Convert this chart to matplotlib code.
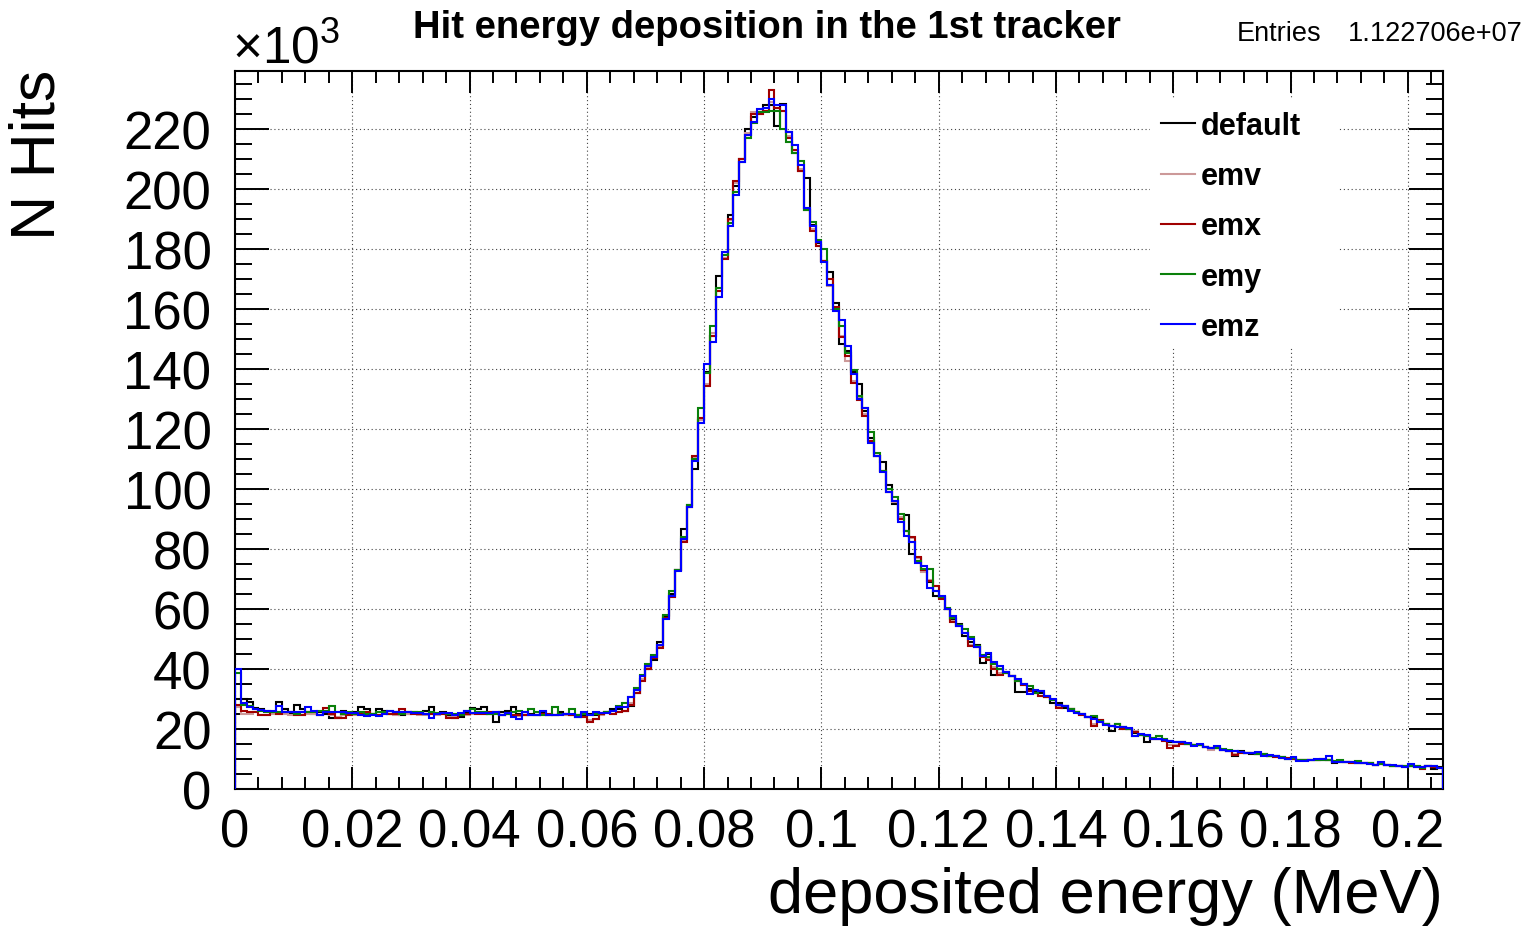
import numpy as np
import matplotlib
matplotlib.use("Agg")
import matplotlib.pyplot as plt
from matplotlib.lines import Line2D
from matplotlib.patches import Rectangle
from matplotlib.ticker import MultipleLocator, FuncFormatter

# histogram contents in units of 10^3 hits, 206 bins of 0.001 MeV
x_lo, x_hi = 0.0, 0.206

default = [
    30.0, 30.0, 29.0, 27.0, 26.8, 26.0, 25.5, 29.0, 26.5, 25.0,
    28.0, 26.5, 25.5, 25.0, 25.8, 25.0, 23.6, 23.6, 26.0, 25.0,
    25.5, 27.2, 26.5, 25.0, 26.8, 26.0, 25.0, 25.5, 24.5, 25.0,
    25.5, 25.0, 26.0, 27.2, 25.0, 25.5, 24.8, 23.5, 24.0, 25.5,
    27.0, 26.5, 27.3, 25.0, 22.3, 25.5, 26.0, 27.3, 25.0, 24.5,
    25.0, 24.8, 25.5, 24.5, 24.5, 25.5, 25.0, 24.5, 24.0, 24.5,
    25.0, 24.5, 25.0, 25.5, 26.5, 26.5, 26.0, 27.5, 32.0, 36.7,
    40.0, 43.0, 49.0, 57.5, 65.0, 73.0, 86.7, 94.5, 106.7, 123.0,
    139.0, 151.0, 171.0, 178.0, 191.4, 201.0, 210.0, 220.0, 224.0, 225.5,
    228.0, 228.0, 221.0, 228.3, 219.0, 212.0, 206.0, 203.5, 188.0, 182.0,
    176.0, 172.4, 162.0, 148.3, 146.0, 139.0, 135.0, 126.0, 117.0, 111.0,
    109.0, 101.3, 95.0, 90.0, 91.3, 78.3, 77.0, 73.0, 69.0, 64.4,
    64.0, 60.0, 56.7, 55.0, 51.1, 49.0, 48.0, 42.0, 45.0, 38.0,
    40.0, 39.0, 37.5, 32.4, 32.4, 33.3, 32.5, 32.0, 30.5, 28.5,
    28.5, 27.0, 26.5, 25.5, 25.0, 24.0, 23.5, 22.5, 21.5, 19.4,
    21.7, 20.5, 20.0, 18.5, 18.0, 15.8, 16.5, 16.5, 16.3, 15.8,
    15.5, 15.5, 15.0, 14.5, 14.5, 14.0, 13.5, 13.5, 13.0, 12.8,
    11.1, 12.5, 12.0, 11.8, 11.5, 11.5, 11.0, 11.0, 10.5, 10.0,
    10.0, 9.5, 9.5, 9.5, 9.8, 9.8, 9.5, 8.5, 9.0, 9.0,
    9.0, 8.8, 8.8, 8.5, 8.0, 8.5, 8.0, 7.8, 7.5, 7.5,
    7.8, 7.5, 7.2, 7.5, 6.5, 7.2,
]

emv = [
    27.2, 25.0, 25.0, 25.5, 24.5, 24.5, 25.0, 25.0, 25.0, 24.5,
    24.5, 24.5, 25.0, 25.0, 24.5, 26.0, 24.8, 24.0, 24.5, 24.5,
    24.8, 24.8, 25.0, 25.0, 24.7, 25.0, 25.0, 24.8, 25.5, 25.0,
    25.0, 24.8, 24.8, 25.0, 24.8, 25.0, 24.0, 24.0, 24.7, 24.8,
    25.0, 25.0, 25.0, 25.0, 25.3, 24.5, 25.0, 24.3, 24.3, 24.5,
    24.5, 24.5, 24.8, 25.0, 24.7, 24.8, 24.8, 24.5, 24.5, 24.0,
    23.0, 23.3, 24.7, 25.3, 25.0, 25.5, 26.0, 28.5, 32.0, 36.5,
    40.5, 43.5, 47.5, 57.0, 64.0, 73.0, 83.0, 94.0, 110.5, 123.0,
    135.0, 152.0, 166.0, 177.0, 189.5, 202.0, 210.0, 218.5, 225.5, 225.0,
    226.0, 229.0, 227.0, 226.0, 217.5, 213.0, 206.5, 193.5, 186.5, 181.0,
    176.0, 167.8, 160.0, 151.0, 142.8, 136.0, 130.7, 125.0, 116.0, 111.0,
    106.0, 99.0, 95.6, 90.7, 86.0, 83.5, 77.0, 72.3, 69.5, 67.5,
    63.5, 60.0, 56.0, 54.5, 52.0, 48.0, 47.5, 44.0, 43.5, 40.5,
    38.5, 38.5, 37.5, 36.0, 34.5, 32.5, 32.0, 31.0, 30.5, 29.5,
    27.5, 27.5, 26.5, 25.5, 24.5, 24.0, 21.8, 23.0, 21.5, 21.0,
    20.5, 20.0, 20.0, 19.2, 18.2, 17.5, 17.0, 16.5, 16.0, 14.5,
    14.5, 15.0, 15.0, 14.5, 14.5, 14.0, 13.0, 13.5, 13.0, 12.5,
    11.5, 12.0, 12.0, 12.0, 11.8, 11.3, 11.0, 10.8, 10.5, 10.2,
    10.0, 9.5, 9.5, 9.5, 9.7, 10.0, 9.8, 9.0, 9.0, 9.0,
    8.8, 8.5, 8.5, 8.3, 8.0, 8.3, 8.0, 7.8, 7.5, 7.3,
    7.5, 7.3, 7.0, 7.5, 7.2, 7.0,
]

emx = [
    28.0, 26.0, 25.8, 25.8, 24.7, 24.7, 25.5, 25.0, 25.5, 25.5,
    24.7, 24.7, 25.5, 25.5, 24.7, 27.0, 25.0, 23.6, 23.8, 24.8,
    25.0, 25.0, 25.5, 25.0, 24.7, 25.3, 25.0, 25.0, 26.5, 25.5,
    25.0, 25.0, 25.0, 25.0, 25.0, 25.0, 23.6, 23.8, 24.7, 25.0,
    25.3, 25.0, 25.0, 25.5, 25.5, 24.7, 25.0, 24.5, 24.5, 24.5,
    24.5, 24.7, 25.0, 25.0, 24.7, 25.0, 25.0, 24.5, 24.5, 24.0,
    22.4, 23.3, 25.0, 25.5, 25.0, 25.5, 26.0, 28.0, 32.0, 36.0,
    40.0, 43.5, 47.0, 57.0, 64.0, 73.0, 82.2, 94.0, 111.0, 123.7,
    134.4, 151.0, 166.0, 176.7, 190.0, 202.8, 210.0, 218.0, 225.0, 225.0,
    226.0, 233.0, 227.0, 226.0, 217.0, 213.0, 206.0, 193.0, 186.0, 181.0,
    176.0, 170.0, 160.5, 150.6, 144.3, 135.3, 129.8, 124.4, 116.0, 111.0,
    106.0, 99.0, 96.0, 90.0, 86.0, 84.0, 77.3, 73.0, 69.4, 67.8,
    63.3, 60.0, 55.8, 54.4, 52.0, 47.5, 47.3, 44.0, 43.0, 40.0,
    38.0, 38.5, 37.5, 36.0, 34.5, 32.5, 32.0, 31.0, 30.5, 29.5,
    27.0, 27.5, 26.5, 25.5, 24.5, 24.0, 21.1, 23.1, 21.5, 21.0,
    20.5, 20.0, 20.0, 19.0, 18.0, 17.5, 16.8, 16.5, 16.0, 13.7,
    14.4, 15.0, 15.0, 14.5, 14.5, 14.0, 13.5, 13.5, 13.0, 12.5,
    11.2, 12.0, 12.0, 12.0, 11.8, 11.3, 11.0, 10.8, 10.3, 10.2,
    10.0, 9.5, 9.5, 9.5, 9.5, 10.0, 9.8, 9.0, 9.0, 9.0,
    8.8, 8.5, 8.5, 8.5, 8.0, 8.3, 8.0, 7.8, 7.5, 7.3,
    7.5, 7.3, 6.8, 7.5, 7.2, 7.0,
]

emy = [
    38.7, 28.0, 27.5, 26.5, 26.0, 25.5, 25.8, 25.5, 25.5, 25.5,
    25.0, 25.5, 25.5, 25.5, 26.0, 26.0, 27.8, 25.5, 25.0, 25.5,
    25.0, 25.5, 25.0, 25.0, 25.5, 25.5, 26.0, 25.5, 25.0, 25.5,
    25.5, 25.5, 25.0, 25.5, 25.3, 25.3, 25.0, 25.0, 24.5, 26.0,
    26.5, 25.5, 25.5, 25.0, 25.0, 24.5, 25.0, 25.5, 26.0, 25.5,
    26.7, 25.5, 24.5, 24.7, 27.2, 25.0, 25.0, 26.5, 24.5, 25.0,
    24.5, 25.0, 25.3, 25.5, 26.0, 27.5, 28.5, 30.6, 33.5, 38.0,
    41.5, 44.5, 48.0, 58.0, 66.0, 73.0, 84.0, 94.5, 110.0, 127.0,
    138.5, 154.3, 167.0, 178.0, 188.7, 199.0, 209.0, 217.0, 222.0, 225.5,
    225.5, 226.0, 226.0, 220.0, 215.8, 212.0, 209.4, 193.0, 189.0, 183.0,
    180.0, 168.0, 160.0, 154.3, 145.3, 139.8, 131.0, 127.0, 119.0, 112.0,
    106.0, 100.0, 97.3, 91.7, 86.0, 82.3, 76.0, 73.3, 73.3, 66.0,
    64.0, 60.3, 57.0, 54.5, 53.3, 50.5, 47.5, 44.5, 44.0, 41.5,
    40.0, 38.5, 37.5, 36.0, 35.0, 34.3, 32.0, 32.5, 31.0, 29.5,
    28.0, 27.5, 26.5, 25.5, 25.0, 24.0, 24.3, 22.5, 21.5, 21.0,
    21.7, 20.5, 20.0, 17.8, 18.0, 17.5, 17.0, 17.8, 16.5, 16.0,
    15.8, 15.5, 15.0, 14.5, 14.5, 14.0, 13.5, 13.8, 13.3, 13.0,
    12.5, 12.3, 12.0, 12.0, 11.8, 11.5, 11.0, 11.0, 10.5, 10.0,
    10.3, 9.8, 9.5, 9.5, 9.8, 9.5, 9.5, 9.3, 9.5, 9.0,
    9.0, 9.3, 8.5, 8.5, 8.0, 8.3, 8.0, 7.8, 7.5, 7.5,
    7.8, 7.5, 7.0, 7.5, 7.5, 7.0,
]

emz = [
    40.0, 28.5, 27.3, 26.7, 26.4, 26.0, 26.0, 27.8, 25.8, 25.8,
    25.8, 25.6, 27.2, 26.0, 24.7, 25.6, 25.6, 25.6, 25.6, 25.3,
    25.3, 24.7, 24.3, 24.7, 24.3, 25.0, 26.0, 25.6, 25.6, 25.6,
    25.3, 25.3, 25.0, 23.6, 25.0, 25.3, 25.3, 24.7, 25.3, 26.0,
    25.3, 25.3, 25.3, 25.3, 25.6, 24.7, 25.3, 24.0, 23.3, 25.6,
    24.7, 24.7, 26.0, 24.7, 24.7, 24.7, 25.0, 25.0, 24.0, 25.8,
    24.5, 25.7, 25.3, 25.3, 26.0, 27.2, 27.2, 30.6, 33.0, 37.5,
    41.0, 44.0, 48.0, 56.7, 64.4, 72.8, 83.3, 93.9, 109.4, 122.0,
    141.5, 149.0, 164.0, 179.0, 187.5, 198.0, 209.0, 218.0, 222.4, 226.7,
    227.0, 230.0, 228.0, 228.0, 219.0, 214.7, 208.0, 193.6, 187.8, 182.4,
    175.6, 168.0, 159.4, 156.3, 147.6, 138.3, 130.0, 127.0, 115.3, 111.0,
    105.6, 99.0, 96.0, 89.0, 84.3, 82.3, 75.3, 74.2, 67.0, 66.0,
    64.4, 60.0, 57.6, 54.4, 52.0, 50.0, 47.3, 44.4, 45.3, 42.3,
    41.0, 39.0, 37.7, 36.7, 35.0, 31.7, 33.0, 32.8, 31.1, 30.0,
    28.0, 27.6, 26.1, 25.3, 25.0, 24.0, 23.3, 22.4, 21.3, 21.1,
    20.8, 20.6, 20.3, 17.8, 18.3, 17.9, 16.7, 16.7, 16.4, 16.1,
    15.8, 15.6, 15.3, 14.4, 15.0, 14.0, 13.7, 14.4, 13.1, 12.8,
    12.8, 12.4, 12.0, 12.0, 12.4, 11.1, 11.3, 11.1, 10.3, 10.0,
    10.6, 9.4, 9.4, 9.7, 10.0, 10.0, 11.0, 9.1, 9.1, 8.9,
    9.1, 8.7, 8.7, 8.3, 8.0, 9.1, 8.0, 8.0, 7.6, 7.2,
    8.3, 7.2, 7.2, 7.6, 7.6, 6.9,
]

labels = ["default", "emv", "emx", "emy", "emz"]
colors = ["#000000", "#cc9999", "#a00000", "#0a800a", "#0000ff"]
series = [default, emv, emx, emy, emz]
entries = "1.122706e+07"

plt.rcParams["font.family"] = ["Liberation Sans", "DejaVu Sans"]
plt.rcParams["mathtext.fontset"] = "custom"
plt.rcParams["mathtext.rm"] = "Liberation Sans"

W, H = 1527, 929
fig = plt.figure(figsize=(W / 100, H / 100), dpi=100)
ax = fig.add_axes([235 / W, 1 - 790 / H, (1443 - 235) / W, (790 - 72) / H])

edges = np.linspace(x_lo, x_hi, len(emz) + 1)
for vals, col in zip(series, colors):
    ax.stairs(vals, edges, baseline=0, color=col, lw=1.5, zorder=3)

ax.set_xlim(x_lo, x_hi)
ax.set_ylim(0, 239.3)

ax.xaxis.set_major_locator(MultipleLocator(0.02))
ax.xaxis.set_minor_locator(MultipleLocator(0.004))
ax.yaxis.set_major_locator(MultipleLocator(20))
ax.yaxis.set_minor_locator(MultipleLocator(5))
ax.xaxis.set_major_formatter(FuncFormatter(lambda v, p: f"{v:g}"))
ax.yaxis.set_major_formatter(FuncFormatter(lambda v, p: f"{v:g}"))

ax.tick_params(axis="both", which="both", direction="in", top=True, right=True,
               width=1.4, labelsize=38)
ax.tick_params(axis="x", which="major", length=15.8, pad=13)
ax.tick_params(axis="x", which="minor", length=8.6)
ax.tick_params(axis="y", which="major", length=24.5, pad=17)
ax.tick_params(axis="y", which="minor", length=12.2)
for sp in ax.spines.values():
    sp.set_linewidth(1.5)

ax.grid(True, which="major", color="#444444", linestyle=(0, (1, 2.5)),
        linewidth=0.8, zorder=0)
ax.set_axisbelow(True)

# legend: white box without border, covering the grid
ax.add_patch(Rectangle((1150 / W, 1 - 348 / H), 188 / W, 248 / H,
                       transform=fig.transFigure, facecolor="white",
                       edgecolor="none", zorder=4))
handles = [Line2D([], [], color=c, lw=1.5) for c in colors]
leg = ax.legend(handles, labels, loc="upper left",
                bbox_to_anchor=(1152 / W, 1 - 103 / H), bbox_transform=fig.transFigure,
                frameon=False, prop={"weight": "bold", "size": 22},
                handlelength=1.1, handletextpad=0.2, labelspacing=0.66,
                borderpad=0.3, borderaxespad=0)
leg.set_zorder(5)

fig.text(767 / W, 1 - 28 / H, "Hit energy deposition in the 1st tracker",
         ha="center", va="center", fontsize=27.5, fontweight="bold")
fig.text(1237 / W, 1 - 34 / H, "Entries", ha="left", va="center", fontsize=19.5)
fig.text(1523 / W, 1 - 34 / H, entries, ha="right", va="center", fontsize=19.5)
fig.text(232 / W, 1 - 50 / H, r"$\times10^{3}$", ha="left", va="center", fontsize=37)

fig.text(38 / W, 1 - 70 / H, "N Hits", rotation=90, ha="center", va="top", fontsize=45)
fig.text(1443 / W, 1 - 897 / H, "deposited energy (MeV)", ha="right", va="center",
         fontsize=45.5)

fig.savefig("out.png", dpi=100, facecolor="white")
